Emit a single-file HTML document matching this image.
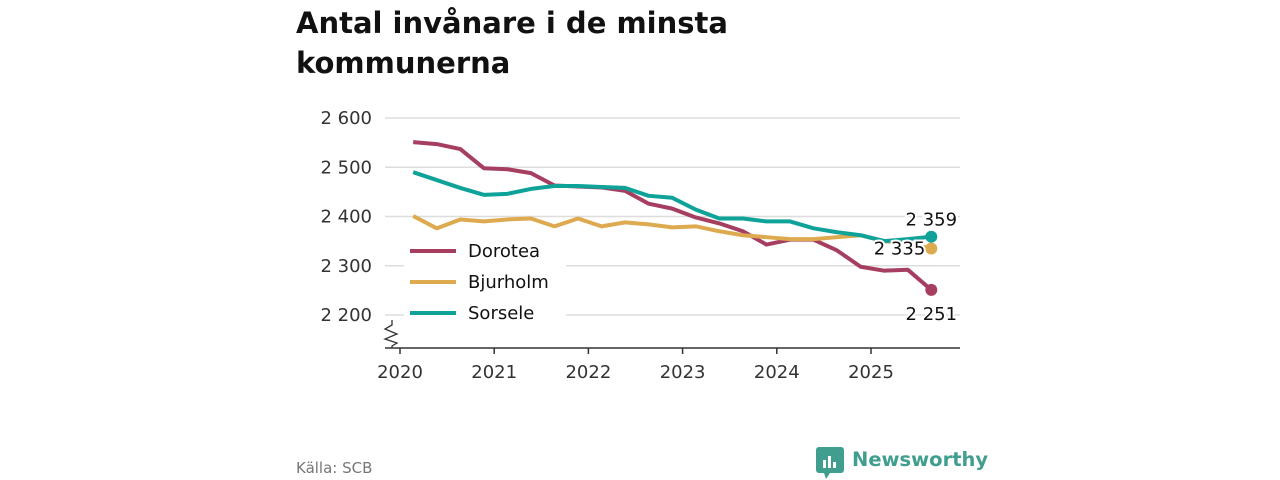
<!DOCTYPE html>
<html><head><meta charset="utf-8"><style>
body{margin:0;width:1280px;height:480px;background:#fff;font-family:"DejaVu Sans","Liberation Sans",sans-serif;overflow:hidden;position:relative}
h1{position:absolute;left:296px;top:3px;margin:0;font-size:29px;line-height:40px;font-weight:bold;color:#111}
.src{position:absolute;left:296px;top:459px;font-size:15px;color:#777}
.logo{position:absolute;left:852px;top:448px;font-size:19.5px;font-weight:bold;color:#3f9e8e}
svg text{font-family:"DejaVu Sans","Liberation Sans",sans-serif}
</style></head><body>
<h1>Antal invånare i de minsta<br>kommunerna</h1>
<svg id="c" width="1280" height="480" style="position:absolute;left:0;top:0"></svg>
<div class="src">Källa: SCB</div>
<svg style="position:absolute;left:816px;top:447px" width="30" height="32"><rect x="0" y="0" width="28" height="26" rx="3" fill="#3f9e8e"/><path d="M8 26 L10 32 L14 26Z" fill="#3f9e8e"/><rect x="7" y="13" width="3" height="8" fill="#fff"/><rect x="12" y="9" width="3" height="12" fill="#fff"/><rect x="17" y="15" width="3" height="6" fill="#fff"/></svg>
<div class="logo">Newsworthy</div>
<script>
const yTicks=[2200,2300,2400,2500,2600];
const xTicks=[2020,2021,2022,2023,2024,2025];
const dorotea=[2551,2547,2537,2498,2496,2488,2463,2461,2459,2452,2426,2416,2398,2386,2370,2343,2353,2353,2331,2298,2290,2292,2251];
const bjurholm=[2401,2376,2394,2390,2394,2396,2380,2396,2380,2388,2384,2378,2380,2370,2362,2358,2354,2354,2358,2362,2350,2345,2335];
const sorsele=[2490,2474,2458,2444,2446,2456,2462,2462,2460,2458,2442,2438,2414,2396,2396,2390,2390,2376,2368,2362,2350,2354,2359];
const startT=2020.14, stepT=0.25;
const NS="http://www.w3.org/2000/svg", svg=document.getElementById('c');
const X=t=>400+(t-2020)*94.2, Y=v=>118+(2600-v)*0.4925;
function mk(tag,at,par){const e=document.createElementNS(NS,tag);for(const k in at)e.setAttribute(k,at[k]);(par||svg).appendChild(e);return e;}
function fmt(v){return String(v).replace(/\B(?=(\d{3})+$)/,' ');}
yTicks.forEach(v=>{const l=mk('line',{x1:385,x2:960,y1:Y(v),y2:Y(v),stroke:'#ddd','stroke-width':1.5});


const t=mk('text',{x:372,y:Y(v)+6,'text-anchor':'end','font-size':18,fill:'#333'});t.textContent=fmt(v);

});
const ax=mk('line',{x1:385,x2:960,y1:348,y2:348,stroke:'#333','stroke-width':1.5});


const br=mk('path',{d:'M392 320 L392 325 L385 329 L397 334 L385 339 L397 343 L392 346 L392 348',fill:'none',stroke:'#333','stroke-width':1.3});


xTicks.forEach(y=>{mk('line',{x1:X(y),x2:X(y),y1:348,y2:354,stroke:'#333','stroke-width':1.5});
const t=mk('text',{x:X(y),y:378,'text-anchor':'middle','font-size':18,fill:'#333'});t.textContent=y;

});
const series=[['dorotea',dorotea,'#a63f5f'],['bjurholm',bjurholm,'#ddaa50'],['sorsele',sorsele,'#0ea299']];
series.forEach(([n,d,c])=>{const p=mk('polyline',{points:d.map((v,i)=>X(startT+i*stepT)+','+Y(v)).join(' '),fill:'none',stroke:c,'stroke-width':4,'stroke-linejoin':'round'});

});
[['dorotea',dorotea,'#a63f5f',30],['bjurholm',bjurholm,'#ddaa50',6],['sorsele',sorsele,'#0ea299',-11]].forEach(([n,d,c,dy])=>{
const v=d[d.length-1],x=X(startT+(d.length-1)*stepT),y=Y(v);
const dot=mk('circle',{cx:x,cy:y,r:6,fill:c});


const lx=n==='bjurholm'?x-6:x;const anchor=n==='bjurholm'?'end':'middle';
const t=mk('text',{x:lx,y:y+dy,'text-anchor':anchor,'font-size':18,fill:'#111',stroke:'#fff','stroke-width':4,'paint-order':'stroke'});t.textContent=fmt(v);

});
const lg=mk('rect',{x:404,y:236,width:162,height:90,fill:'#fff'});


[['Dorotea','#a63f5f'],['Bjurholm','#ddaa50'],['Sorsele','#0ea299']].forEach(([n,c],i)=>{const y=251+i*31;
mk('line',{x1:410,x2:456,y1:y,y2:y,stroke:c,'stroke-width':4});
const t=mk('text',{x:468,y:y+6,'font-size':18,fill:'#111'});t.textContent=n;

});
</script>
</body></html>
